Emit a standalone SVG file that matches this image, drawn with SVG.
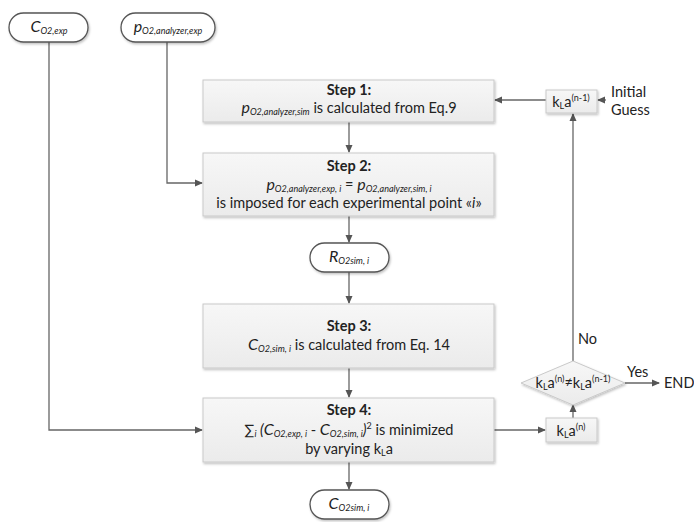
<svg xmlns="http://www.w3.org/2000/svg" width="694" height="522" viewBox="0 0 694 522">
<defs>
<linearGradient id="g" x1="0" y1="0" x2="0" y2="1"><stop offset="0" stop-color="#f7f7f7"/><stop offset="1" stop-color="#ebebeb"/></linearGradient>
<marker id="ar" markerWidth="8" markerHeight="8" refX="7" refY="4" orient="auto" markerUnits="userSpaceOnUse"><path d="M0,0.5 L8,4 L0,7.5 Z" fill="#555"/></marker>
<filter id="sh" x="-10%" y="-10%" width="130%" height="140%"><feDropShadow dx="1" dy="1.5" stdDeviation="1" flood-color="#000" flood-opacity="0.25"/></filter>
</defs>
<style>
text{font-family:Lato,"Liberation Sans",sans-serif;fill:#222;font-size:14.5px}
.b{font-weight:bold}
.box{fill:url(#g);stroke:#c9c9c9;stroke-width:1;filter:url(#sh)}
.cap{fill:#fff;stroke:#555;stroke-width:1.3;filter:url(#sh)}
.ln{fill:none;stroke:#666;stroke-width:1.3}
.it{font-style:italic}
.s{font-size:9px;font-style:italic}
.v{font-size:16px;font-style:italic}
.sp{font-size:9px}
</style>
<rect width="694" height="522" fill="#fff"/>
<g id="connectors">
<path class="ln" d="M49,42 V430 H202" marker-end="url(#ar)"/>
<path class="ln" d="M167,42 V183 H202" marker-end="url(#ar)"/>
<path class="ln" d="M349,122 V152" marker-end="url(#ar)"/>
<path class="ln" d="M349,216 V242" marker-end="url(#ar)"/>
<path class="ln" d="M349,272 V303" marker-end="url(#ar)"/>
<path class="ln" d="M349,368 V397" marker-end="url(#ar)"/>
<path class="ln" d="M349,462 V489" marker-end="url(#ar)"/>
<path class="ln" d="M494,430 H545" marker-end="url(#ar)"/>
<path class="ln" d="M573,418 V405" marker-end="url(#ar)"/>
<path class="ln" d="M573,361 V114" marker-end="url(#ar)"/>
<path class="ln" d="M546,100 H495" marker-end="url(#ar)"/>
<path class="ln" d="M606,100 H598" marker-end="url(#ar)"/>
<path class="ln" d="M625,383 H659" marker-end="url(#ar)"/>
<text x="578" y="344">No</text>
<text x="627" y="377">Yes</text>
</g>
<g id="c_o2_exp">
<rect class="cap" x="9" y="13" width="79" height="29" rx="14.5"/>
<text x="49" y="32" text-anchor="middle"><tspan class="v">C</tspan><tspan class="s" dy="2">O2,exp</tspan></text>
</g>
<g id="p_o2_exp">
<rect class="cap" x="121" y="13" width="94" height="29" rx="14.5"/>
<text x="168" y="32" text-anchor="middle"><tspan class="v">p</tspan><tspan class="s" dy="2">O2,analyzer,exp</tspan></text>
</g>
<g id="step1">
<rect class="box" x="203" y="80" width="291" height="42"/>
<text class="b" x="349" y="95" text-anchor="middle">Step 1:</text>
<text x="349" y="113" text-anchor="middle"><tspan class="v">p</tspan><tspan class="s" dy="2">O2,analyzer,sim</tspan><tspan dy="-2"> is calculated from Eq.9</tspan></text>
</g>
<g id="step2">
<rect class="box" x="203" y="153" width="291" height="63"/>
<text class="b" x="349" y="171" text-anchor="middle">Step 2:</text>
<text x="349" y="190" text-anchor="middle"><tspan class="v">p</tspan><tspan class="s" dy="2">O2,analyzer,exp, i</tspan><tspan dy="-2"> = </tspan><tspan class="v">p</tspan><tspan class="s" dy="2">O2,analyzer,sim, i</tspan></text>
<text x="349" y="208" text-anchor="middle">is imposed for each experimental point «<tspan class="it">i</tspan>»</text>
</g>
<g id="r_sim">
<rect class="cap" x="310" y="243" width="79" height="29" rx="14.5"/>
<text x="349" y="262" text-anchor="middle"><tspan class="v">R</tspan><tspan class="s" dy="2">O2sim, i</tspan></text>
</g>
<g id="step3">
<rect class="box" x="203" y="304" width="291" height="64"/>
<text class="b" x="349" y="331" text-anchor="middle">Step 3:</text>
<text x="349" y="350" text-anchor="middle"><tspan class="v">C</tspan><tspan class="s" dy="2">O2,sim, i</tspan><tspan dy="-2"> is calculated from Eq. 14</tspan></text>
</g>
<g id="step4">
<rect class="box" x="203" y="398" width="291" height="64"/>
<text class="b" x="349" y="415" text-anchor="middle">Step 4:</text>
<text x="349" y="435" text-anchor="middle">∑<tspan class="s" dy="2">i</tspan><tspan class="it" dy="-2"> (</tspan><tspan class="v">C</tspan><tspan class="s" dy="2">O2,exp, i</tspan><tspan dy="-2"> - </tspan><tspan class="v">C</tspan><tspan class="s" dy="2">O2,sim, i</tspan><tspan class="it" dy="-2">)</tspan><tspan class="sp" dy="-6">2</tspan><tspan dy="6"> is minimized</tspan></text>
<text x="349" y="454" text-anchor="middle">by varying k<tspan class="sp" dy="2">L</tspan><tspan dy="-2">a</tspan></text>
</g>
<g id="c_sim">
<rect class="cap" x="310" y="490" width="79" height="29" rx="14.5"/>
<text x="349" y="509" text-anchor="middle"><tspan class="v">C</tspan><tspan class="s" dy="2">O2sim, i</tspan></text>
</g>
<g id="kla_n1">
<rect class="box" x="546" y="90" width="51" height="23"/>
<text x="571" y="107" text-anchor="middle">k<tspan class="sp" dy="2">L</tspan><tspan dy="-2">a</tspan><tspan class="sp" dy="-6">(n-1)</tspan></text>
</g>
<g id="initial_guess">
<text x="611" y="97">Initial</text>
<text x="611" y="115">Guess</text>
</g>
<g id="kla_n">
<rect class="box" x="546" y="418" width="51" height="24"/>
<text x="571" y="436" text-anchor="middle">k<tspan class="sp" dy="2">L</tspan><tspan dy="-2">a</tspan><tspan class="sp" dy="-6">(n)</tspan></text>
</g>
<g id="decision">
<polygon points="573,361 625,383 573,405 521,383" fill="url(#g)" stroke="#c9c9c9" filter="url(#sh)"/>
<text x="573" y="388" text-anchor="middle">k<tspan class="sp" dy="2">L</tspan><tspan dy="-2">a</tspan><tspan class="sp" dy="-6">(n)</tspan><tspan dy="6">≠k</tspan><tspan class="sp" dy="2">L</tspan><tspan dy="-2">a</tspan><tspan class="sp" dy="-6">(n-1)</tspan></text>
</g>
<g id="end">
<text x="664" y="388">END</text>
</g>
</svg>
